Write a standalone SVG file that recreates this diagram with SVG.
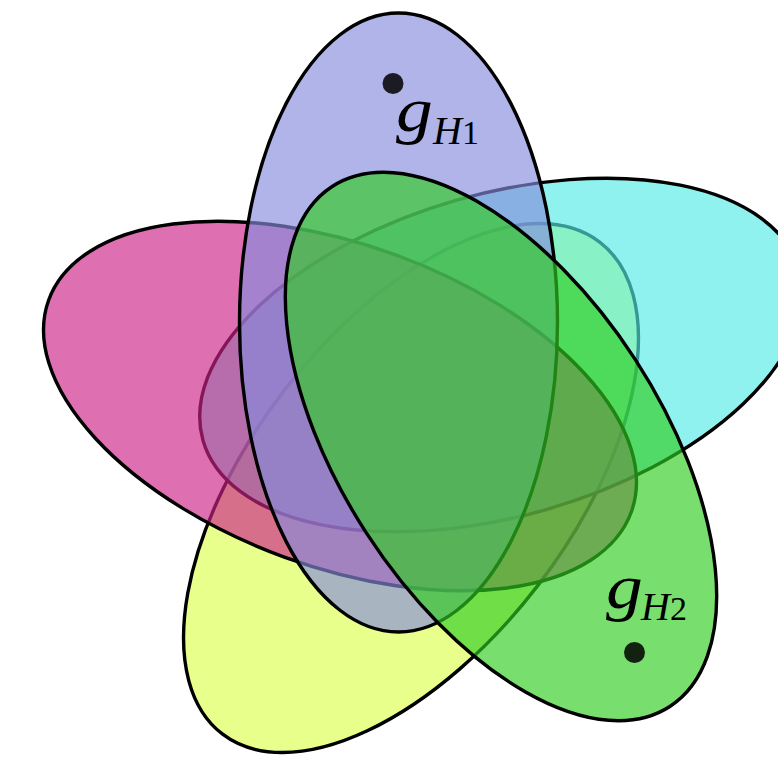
<svg xmlns="http://www.w3.org/2000/svg" width="778" height="757" viewBox="0 0 778 757">
<style>
.set{stroke:#000;stroke-width:3.4;fill-opacity:0.65}
.dot{fill:#000;fill-opacity:0.85}
.lbl{font-family:"Liberation Serif","Times New Roman",serif;fill:#000}
</style>
<rect width="778" height="757" fill="#fff"/>
<g id="set-yellow"><ellipse class="set" fill="#dcff4e" cx="411" cy="488" rx="160" ry="310" transform="rotate(37.5 411 488)"/></g>
<g id="set-cyan"><ellipse class="set" fill="#54ebe5" cx="501" cy="355" rx="310" ry="161" transform="rotate(-16 501 355)"/></g>
<g id="set-magenta"><ellipse class="set" fill="#cc2389" cx="340" cy="406" rx="310" ry="161" transform="rotate(20 340 406)"/></g>
<g id="set-blue"><ellipse class="set" fill="#868cdc" cx="398.5" cy="322.5" rx="159" ry="309.5"/></g>
<g id="set-green"><ellipse class="set" fill="#2fcc20" cx="501" cy="446.5" rx="160" ry="310" transform="rotate(-33 501 446.5)"/></g>
<g id="point-gH1">
<circle class="dot" cx="393" cy="83.5" r="10.5"/>
<text class="lbl" x="396" y="131" font-size="64" font-style="italic" transform="translate(396 0) scale(1.15 1) translate(-396 0)">g</text>
<text class="lbl" y="144" font-size="40"><tspan x="433" font-style="italic">H</tspan><tspan font-size="34">1</tspan></text>
</g>
<g id="point-gH2">
<circle class="dot" cx="634.5" cy="652.5" r="10.5"/>
<text class="lbl" x="606" y="608" font-size="64" font-style="italic" transform="translate(606 0) scale(1.15 1) translate(-606 0)">g</text>
<text class="lbl" y="620" font-size="40"><tspan x="641" font-style="italic">H</tspan><tspan font-size="34">2</tspan></text>
</g>
<g id="connectors"/>
</svg>
